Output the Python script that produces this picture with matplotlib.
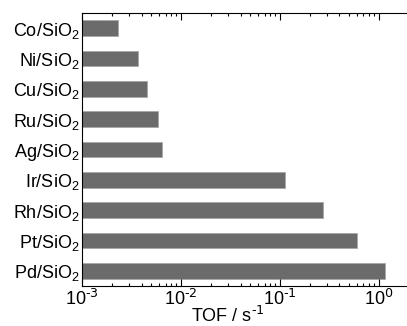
import matplotlib
matplotlib.use("Agg")
import matplotlib.pyplot as plt
from matplotlib import rcParams

rcParams['font.family'] = 'sans-serif'
rcParams['font.sans-serif'] = ['Liberation Sans']
rcParams['mathtext.default'] = 'regular'
rcParams['font.size'] = 13

catalysts = ['Co', 'Ni', 'Cu', 'Ru', 'Ag', 'Ir', 'Rh', 'Pt', 'Pd']
tof = [0.0023, 0.0037, 0.0045, 0.0059, 0.0064, 0.113, 0.27, 0.60, 1.16]
decades = [-3, -2, -1, 0]

labels = [c + '/SiO$_2$' for c in catalysts]
pos = list(range(len(catalysts)))

fig = plt.figure(figsize=(4.07, 3.26), dpi=100)
ax = fig.add_axes([0.2015, 0.123, 0.797, 0.837])

ax.barh(pos, tof, height=0.52, color='#6b6b6b',
        edgecolor='#a8a8a8', linewidth=0.6)

ax.set_xscale('log')
ax.set_xlim(1e-3, 1.9)
ax.set_ylim(8.5, -0.5)
ax.set_yticks(pos)
ax.set_yticklabels(labels, fontsize=13)

# decade labels with a plain hyphen in the exponent
ax.set_xticks([10.0 ** d for d in decades])
ax.set_xticklabels(['10$^{\\text{%d}}$' % d for d in decades])

ax.tick_params(axis='y', length=0, pad=2)
ax.tick_params(axis='x', which='major', direction='in', top=True,
               length=5, width=0.8, labelsize=13, pad=2)
ax.tick_params(axis='x', which='minor', direction='in', top=True,
               length=2.5, width=0.8)
ax.spines['right'].set_visible(False)
for s in ['left', 'top', 'bottom']:
    ax.spines[s].set_linewidth(0.8)

ax.set_xlabel('TOF / s$^{\\text{-1}}$', fontsize=13)
ax.xaxis.set_label_coords(0.45, -0.075)
ax.xaxis.label.set_va('top')

plt.savefig('out.png', dpi=100)
